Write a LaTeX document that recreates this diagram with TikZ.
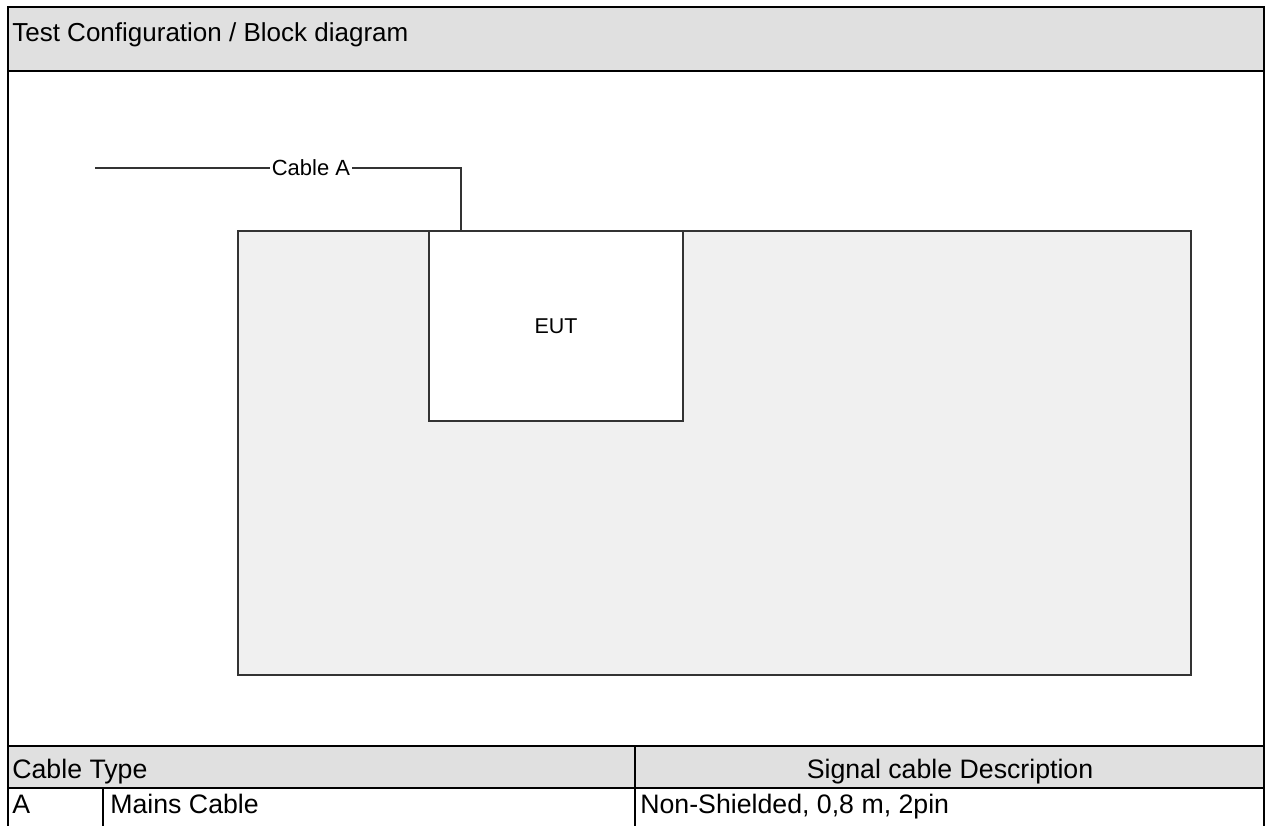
\documentclass[tikz,border=0pt]{standalone}
\usepackage{fontspec}
\setmainfont{Liberation Sans}
\usepackage{tikz}
\usetikzlibrary{positioning}
\definecolor{headgray}{RGB}{224,224,224}
\definecolor{basegray}{RGB}{240,240,240}
\definecolor{wiregray}{RGB}{51,51,51}

\begin{document}
\begin{tikzpicture}[x=0.02cm, y=-0.02cm,
  frame/.style={draw=black, line width=1.1pt},
  cell/.style={font=\fontsize{15.2}{17}\selectfont, inner sep=0pt},
  block/.style={rectangle, draw=wiregray, line width=0.7pt, inner sep=0pt, font=\fontsize{12.2}{14}\selectfont},
  wire/.style={draw=wiregray, line width=0.7pt},
  tag/.style={fill=white, inner sep=1pt, font=\fontsize{12.5}{14}\selectfont}
]
  \useasboundingbox (0,0) rectangle (1267,825);
  % grey bands
  \fill[headgray] (8,7) rectangle (1264,71);
  \fill[headgray] (8,746) rectangle (1264,788);
  % outer frame and table rules
  \draw[frame] (8,830) -- (8,7) -- (1264,7) -- (1264,830);
  \draw[frame] (8,71) -- (1264,71);
  \draw[frame] (8,746) -- (1264,746);
  \draw[frame] (8,788) -- (1264,788);
  \draw[frame] (635,746) -- (635,830);
  \draw[frame] (103,788) -- (103,830);

  \node[cell, font=\fontsize{14.8}{17}\selectfont, anchor=base west] (title) at (12,41) {Test Configuration / Block diagram};

  % setup
  \node[block, fill=basegray, minimum width=19.06cm, minimum height=8.88cm] (base) at (714.5,453) {};
  \node[block, fill=white, minimum width=5.08cm, minimum height=3.8cm] (eut) at (556,326) {EUT};
  \coordinate (plug) at (95,168);
  \coordinate (bend) at (461,168);
  \draw[wire] (plug) -- node[tag, pos=0.59] (cablea) {Cable A} (bend) -- (bend |- eut.north);

  % cable table
  \node[cell, anchor=base west] (typehead) at (12,778) {Cable Type};
  \node[cell, anchor=base] (deschead) at (950,778) {Signal cable Description};
  \node[cell, anchor=base west] (typeid) at (12,813) {A};
  \node[cell, anchor=base west] (typename) at (110,813) {Mains Cable};
  \node[cell, anchor=base west] (typedesc) at (640,813) {Non-Shielded, 0,8 m, 2pin};
\end{tikzpicture}
\end{document}
